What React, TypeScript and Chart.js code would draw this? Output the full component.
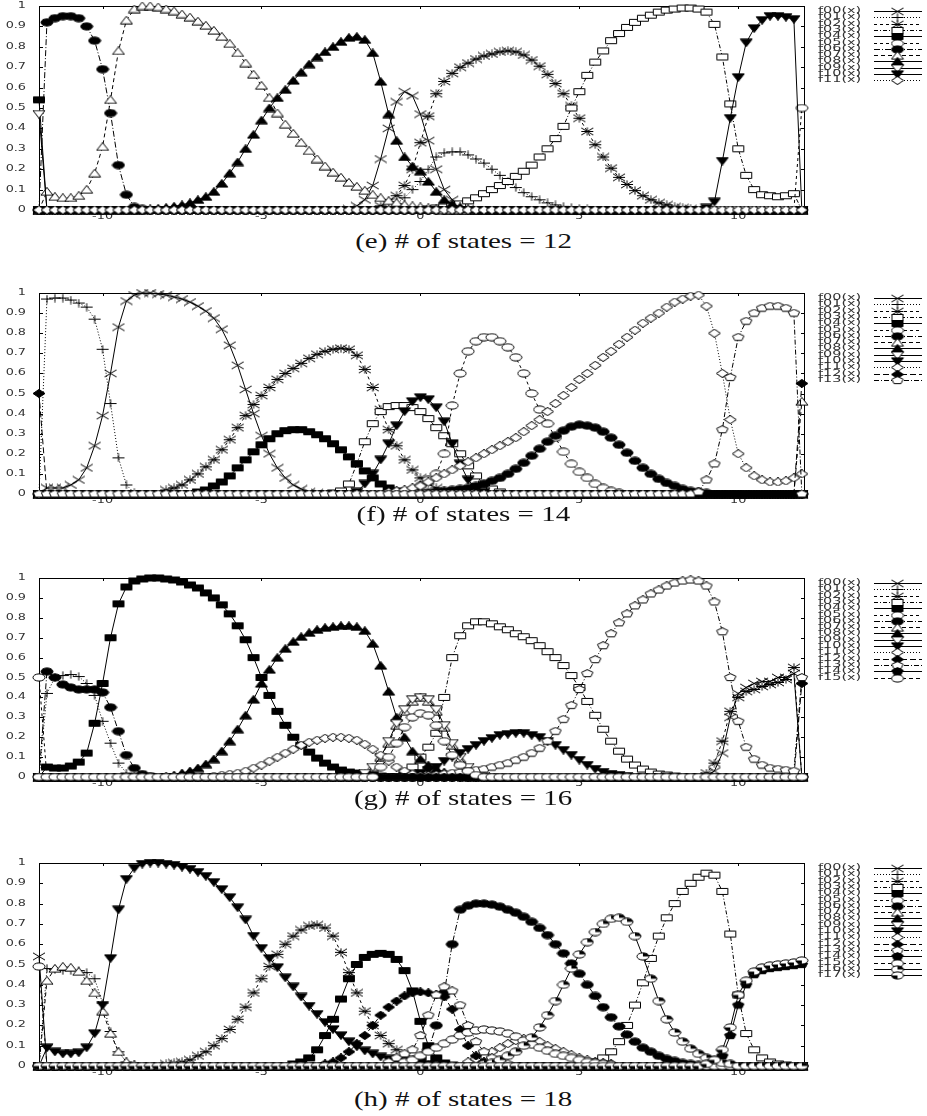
import React, { useEffect, useRef } from 'react';
import { Chart, registerables } from 'chart.js';
Chart.register(...registerables);

// ---------- shared axes ----------
const X_MIN = -12;
const X_MAX = 12.1;
const X_STEP = 0.25;
const X_GRID = Array.from({ length: 97 }, (_, i) => -12 + i * X_STEP);
const X_TICKS = [-10, -5, 0, 5, 10];
const X_TICK_LABELS = ['-10', '-5', '0', '5', '10'];
const Y_TICKS = [0, 0.1, 0.2, 0.3, 0.4, 0.5, 0.6, 0.7, 0.8, 0.9, 1];
const Y_TICK_LABELS = ['0', '0.1', '0.2', '0.3', '0.4', '0.5', '0.6', '0.7', '0.8', '0.9', '1'];
const CAPTIONS = ['(e) # of states = 12', '(f) # of states = 14', '(g) # of states = 16', '(h) # of states = 18'];

type Seg = [number, number[]]; // [first x, values at consecutive 0.25 steps]

// ---------- panel (e): 12 states ----------
const E_F00: Seg[] = [[-2.25, [0.005, 0.02, 0.05, 0.12, 0.25, 0.4, 0.53, 0.58, 0.56, 0.47, 0.34, 0.2, 0.1, 0.05, 0.02, 0.005]]];
const E_F01: Seg[] = [[-1.0, [0.01, 0.03, 0.06, 0.1, 0.14, 0.2, 0.26, 0.28, 0.285, 0.285, 0.27, 0.25, 0.23, 0.2, 0.17, 0.14, 0.11, 0.085, 0.065, 0.05, 0.035, 0.025, 0.018, 0.012, 0.008, 0.005]]];
const E_F02: Seg[] = [[-1.25, [0.02, 0.04, 0.07, 0.12, 0.2, 0.33, 0.46, 0.57, 0.63, 0.67, 0.7, 0.72, 0.74, 0.755, 0.765, 0.775, 0.78, 0.775, 0.76, 0.735, 0.705, 0.665, 0.62, 0.57, 0.51, 0.45, 0.385, 0.32, 0.26, 0.205, 0.16, 0.125, 0.095, 0.07, 0.05, 0.035, 0.025, 0.015, 0.01, 0.005]]];
const E_F03: Seg[] = [[0.25, [0.005, 0.01, 0.015, 0.02, 0.03, 0.045, 0.06, 0.08, 0.1, 0.12, 0.14, 0.165, 0.19, 0.22, 0.26, 0.3, 0.35, 0.41, 0.5, 0.58, 0.66, 0.725, 0.78, 0.83, 0.865, 0.895, 0.92, 0.94, 0.955, 0.97, 0.98, 0.985, 0.99, 0.99, 0.985, 0.97, 0.91, 0.75, 0.52, 0.3, 0.17, 0.1, 0.075, 0.07, 0.065, 0.07, 0.08]]];
const E_F04: Seg[] = [[-12, [0.54]]];
const E_F05: Seg[] = [[12, [0.5]]];
const E_F06: Seg[] = [[-11.75, [0.92, 0.94, 0.95, 0.95, 0.94, 0.9, 0.83, 0.69, 0.475, 0.22, 0.075, 0.015, 0.005]]];
const E_F07: Seg[] = [[-11.75, [0.09, 0.065, 0.06, 0.06, 0.07, 0.1, 0.18, 0.31, 0.54, 0.78, 0.93, 0.985, 1.0, 1.0, 0.995, 0.985, 0.975, 0.96, 0.945, 0.925, 0.905, 0.88, 0.85, 0.815, 0.77, 0.72, 0.665, 0.61, 0.55, 0.475, 0.42, 0.375, 0.33, 0.29, 0.25, 0.215, 0.185, 0.16, 0.135, 0.115, 0.095, 0.075, 0.06, 0.045, 0.035, 0.025, 0.02, 0.015, 0.01, 0.005]]];
const E_F08: Seg[] = [[-8.5, [0.005, 0.008, 0.012, 0.018, 0.025, 0.035, 0.05, 0.065, 0.09, 0.13, 0.18, 0.235, 0.3, 0.37, 0.44, 0.5, 0.55, 0.59, 0.635, 0.675, 0.715, 0.75, 0.775, 0.8, 0.825, 0.845, 0.85, 0.835, 0.77, 0.63, 0.47, 0.34, 0.26, 0.215, 0.19, 0.14, 0.09, 0.05, 0.03, 0.015, 0.005]]];
const E_F09: Seg[] = [[-12, [0.47]]];
const E_F10: Seg[] = [[9.0, [0.01, 0.04, 0.24, 0.45, 0.65, 0.82, 0.89, 0.93, 0.95, 0.95, 0.945, 0.935]]];
const E_F11: Seg[] = [];

// ---------- panel (f): 14 states ----------
const F_F00: Seg[] = [[-11.75, [0.03, 0.03, 0.03, 0.045, 0.07, 0.13, 0.24, 0.39, 0.6, 0.83, 0.96, 0.99, 1.0, 1.0, 0.995, 0.99, 0.98, 0.97, 0.955, 0.935, 0.91, 0.875, 0.82, 0.74, 0.64, 0.52, 0.4, 0.29, 0.2, 0.13, 0.08, 0.045, 0.025, 0.01, 0.005]]];
const F_F01: Seg[] = [[-11.75, [0.97, 0.975, 0.975, 0.965, 0.95, 0.93, 0.87, 0.72, 0.45, 0.18, 0.045, 0.005]]];
const F_F02: Seg[] = [[-8.0, [0.02, 0.03, 0.045, 0.07, 0.1, 0.135, 0.17, 0.22, 0.27, 0.33, 0.39, 0.445, 0.49, 0.53, 0.57, 0.6, 0.625, 0.65, 0.675, 0.695, 0.71, 0.72, 0.725, 0.72, 0.69, 0.62, 0.53, 0.42, 0.32, 0.24, 0.17, 0.12, 0.08, 0.05, 0.03, 0.015, 0.005]]];
const F_F03: Seg[] = [[-2.75, [0.005, 0.015, 0.05, 0.15, 0.26, 0.35, 0.41, 0.435, 0.44, 0.44, 0.43, 0.41, 0.375, 0.33, 0.29, 0.25, 0.2, 0.14, 0.09, 0.05, 0.025, 0.01]]];
const F_F04: Seg[] = [[-7.0, [0.01, 0.02, 0.04, 0.06, 0.09, 0.13, 0.17, 0.21, 0.245, 0.275, 0.3, 0.315, 0.32, 0.32, 0.31, 0.295, 0.275, 0.25, 0.22, 0.185, 0.15, 0.115, 0.08, 0.05, 0.03, 0.015, 0.005]]];
const F_F05: Seg[] = [[-0.75, [0.005, 0.01, 0.02, 0.04, 0.07, 0.1, 0.2, 0.44, 0.6, 0.71, 0.76, 0.78, 0.78, 0.76, 0.73, 0.68, 0.6, 0.5, 0.42, 0.35, 0.28, 0.21, 0.15, 0.11, 0.08, 0.05, 0.03, 0.015, 0.005]]];
const F_F06: Seg[] = [[0, [0.005, 0.007, 0.01, 0.015, 0.02, 0.025, 0.03, 0.04, 0.05, 0.065, 0.08, 0.1, 0.125, 0.155, 0.19, 0.225, 0.26, 0.29, 0.315, 0.335, 0.345, 0.34, 0.33, 0.31, 0.28, 0.245, 0.205, 0.165, 0.13, 0.1, 0.075, 0.055, 0.04, 0.025, 0.015, 0.01, 0.005]]];
const F_F07: Seg[] = [[12, [0.46]]];
const F_F08: Seg[] = [];
const F_F09: Seg[] = [];
const F_F10: Seg[] = [[-2.0, [0.01, 0.05, 0.1, 0.17, 0.25, 0.34, 0.41, 0.46, 0.48, 0.47, 0.43, 0.36, 0.25, 0.15, 0.07, 0.03, 0.01]]];
const F_F11: Seg[] = [[-1.0, [0.01, 0.015, 0.02, 0.03, 0.04, 0.06, 0.08, 0.1, 0.12, 0.14, 0.16, 0.18, 0.2, 0.22, 0.24, 0.26, 0.28, 0.31, 0.34, 0.37, 0.41, 0.45, 0.49, 0.53, 0.57, 0.6, 0.64, 0.68, 0.71, 0.745, 0.78, 0.815, 0.85, 0.875, 0.9, 0.93, 0.955, 0.97, 0.985, 0.99, 0.935, 0.8, 0.6, 0.37, 0.2, 0.13, 0.09, 0.07, 0.06, 0.06, 0.065, 0.08, 0.1]]];
const F_F12: Seg[] = [[-12, [0.5]], [12, [0.55]]];
const F_F13: Seg[] = [[8.75, [0.01, 0.07, 0.15, 0.32, 0.58, 0.78, 0.86, 0.9, 0.925, 0.935, 0.935, 0.925, 0.9]]];

// ---------- panel (g): 16 states ----------
const G_F00: Seg[] = [[9.0, [0.005, 0.03, 0.12, 0.3, 0.42, 0.45, 0.47, 0.48, 0.48, 0.5, 0.5, 0.52]]];
const G_F01: Seg[] = [[-11.75, [0.42, 0.5, 0.51, 0.515, 0.505, 0.47, 0.41, 0.28, 0.17, 0.07, 0.02, 0.005]]];
const G_F02: Seg[] = [[9.0, [0.02, 0.07, 0.18, 0.33, 0.4, 0.43, 0.44, 0.455, 0.465, 0.475, 0.49, 0.55]]];
const G_F03: Seg[] = [[-0.5, [0.02, 0.05, 0.1, 0.15, 0.22, 0.4, 0.6, 0.71, 0.76, 0.78, 0.78, 0.77, 0.755, 0.74, 0.72, 0.705, 0.685, 0.66, 0.63, 0.6, 0.56, 0.51, 0.45, 0.38, 0.31, 0.24, 0.18, 0.13, 0.09, 0.06, 0.04, 0.025, 0.015, 0.01, 0.005]]];
const G_F04: Seg[] = [[-11.75, [0.05, 0.045, 0.045, 0.055, 0.075, 0.12, 0.27, 0.47, 0.7, 0.87, 0.955, 0.985, 0.995, 1.0, 1.0, 0.995, 0.99, 0.98, 0.965, 0.95, 0.925, 0.9, 0.865, 0.82, 0.76, 0.69, 0.6, 0.5, 0.41, 0.33, 0.26, 0.2, 0.16, 0.125, 0.095, 0.07, 0.05, 0.035, 0.025, 0.02, 0.015, 0.01, 0.005]]];
const G_F05: Seg[] = [[-12, [0.5]]];
const G_F06: Seg[] = [[-11.75, [0.53, 0.5, 0.465, 0.45, 0.44, 0.44, 0.44, 0.425, 0.35, 0.23, 0.11, 0.045, 0.015, 0.005]]];
const G_F07: Seg[] = [[-1.75, [0.02, 0.05, 0.1, 0.17, 0.26, 0.33, 0.38, 0.4, 0.38, 0.33, 0.25, 0.16, 0.09, 0.045, 0.02, 0.005]]];
const G_F08: Seg[] = [[-8.0, [0.005, 0.01, 0.02, 0.03, 0.045, 0.065, 0.09, 0.13, 0.18, 0.24, 0.31, 0.39, 0.47, 0.54, 0.6, 0.645, 0.68, 0.705, 0.725, 0.74, 0.75, 0.755, 0.76, 0.76, 0.755, 0.735, 0.67, 0.56, 0.43, 0.3, 0.2, 0.13, 0.09, 0.06, 0.04, 0.025, 0.015, 0.005]]];
const G_F09: Seg[] = [[-1.75, [0.02, 0.05, 0.1, 0.18, 0.27, 0.34, 0.39, 0.4, 0.39, 0.34, 0.26, 0.17, 0.1, 0.05, 0.02, 0.005]]];
const G_F10: Seg[] = [[-0.5, [0.005, 0.01, 0.02, 0.035, 0.05, 0.08, 0.1, 0.12, 0.14, 0.16, 0.18, 0.195, 0.21, 0.215, 0.22, 0.22, 0.21, 0.2, 0.18, 0.16, 0.135, 0.11, 0.085, 0.06, 0.04, 0.025, 0.015, 0.01, 0.005]]];
const G_F11: Seg[] = [[-6.5, [0.005, 0.01, 0.015, 0.02, 0.03, 0.045, 0.06, 0.08, 0.1, 0.12, 0.14, 0.16, 0.175, 0.185, 0.195, 0.2, 0.2, 0.195, 0.185, 0.165, 0.14, 0.11, 0.08, 0.05, 0.03, 0.015, 0.005]]];
const G_F12: Seg[] = [[12, [0.47]]];
const G_F13: Seg[] = [[0, [0.005, 0.007, 0.01, 0.015, 0.02, 0.025, 0.03, 0.035, 0.04, 0.05, 0.06, 0.07, 0.085, 0.1, 0.12, 0.145, 0.18, 0.23, 0.29, 0.36, 0.44, 0.52, 0.59, 0.66, 0.72, 0.775, 0.82, 0.86, 0.89, 0.92, 0.94, 0.96, 0.975, 0.985, 0.99, 0.985, 0.96, 0.88, 0.73, 0.5, 0.28, 0.15, 0.09, 0.06, 0.045, 0.04, 0.035, 0.03, 0.5]]];
const G_F14: Seg[] = [];
const G_F15: Seg[] = [[-1.25, [0.05, 0.1, 0.17, 0.25, 0.3, 0.32, 0.31, 0.26, 0.18, 0.11, 0.06, 0.03, 0.01]]];

// ---------- panel (h): 18 states ----------
const H_F00: Seg[] = [[-12, [0.54]]];
const H_F01: Seg[] = [[-11.75, [0.48, 0.475, 0.47, 0.47, 0.47, 0.46, 0.43, 0.31, 0.17, 0.07, 0.02, 0.005]]];
const H_F02: Seg[] = [[-8.0, [0.01, 0.015, 0.02, 0.03, 0.05, 0.07, 0.1, 0.135, 0.18, 0.23, 0.29, 0.36, 0.43, 0.49, 0.55, 0.6, 0.64, 0.67, 0.69, 0.695, 0.68, 0.64, 0.56, 0.46, 0.36, 0.27, 0.2, 0.15, 0.11, 0.08, 0.05, 0.03, 0.015, 0.005]]];
const H_F03: Seg[] = [[5.0, [0.005, 0.01, 0.02, 0.04, 0.07, 0.12, 0.2, 0.3, 0.41, 0.53, 0.64, 0.73, 0.8, 0.86, 0.9, 0.93, 0.95, 0.94, 0.86, 0.65, 0.35, 0.16, 0.08, 0.04, 0.02, 0.01, 0.005]]];
const H_F04: Seg[] = [[-4.0, [0.01, 0.02, 0.04, 0.08, 0.15, 0.23, 0.33, 0.43, 0.5, 0.535, 0.55, 0.555, 0.55, 0.525, 0.47, 0.37, 0.22, 0.1, 0.04, 0.015, 0.005]]];
const H_F05: Seg[] = [[-12, [0.49]]];
const H_F06: Seg[] = [[-0.25, [0.02, 0.04, 0.08, 0.2, 0.36, 0.6, 0.77, 0.79, 0.8, 0.8, 0.795, 0.785, 0.77, 0.755, 0.735, 0.71, 0.68, 0.645, 0.6, 0.555, 0.505, 0.455, 0.4, 0.345, 0.29, 0.24, 0.195, 0.155, 0.12, 0.09, 0.07, 0.05, 0.035, 0.025, 0.015, 0.01, 0.005]]];
const H_F07: Seg[] = [[-11.75, [0.42, 0.48, 0.49, 0.485, 0.465, 0.42, 0.36, 0.27, 0.16, 0.07, 0.02, 0.005]]];
const H_F08: Seg[] = [];
const H_F09: Seg[] = [];
const H_F10: Seg[] = [[-11.75, [0.09, 0.07, 0.06, 0.06, 0.065, 0.09, 0.16, 0.3, 0.53, 0.77, 0.92, 0.975, 0.995, 1.0, 1.0, 0.995, 0.99, 0.98, 0.97, 0.955, 0.935, 0.905, 0.87, 0.83, 0.78, 0.72, 0.64, 0.58, 0.53, 0.485, 0.435, 0.39, 0.34, 0.295, 0.255, 0.215, 0.18, 0.15, 0.12, 0.095, 0.075, 0.06, 0.045, 0.035, 0.025, 0.02, 0.015, 0.01, 0.007, 0.005]]];
const H_F11: Seg[] = [[1.5, [0.02, 0.035, 0.05, 0.07, 0.09, 0.11, 0.125, 0.135, 0.13, 0.12, 0.1, 0.085, 0.07, 0.055, 0.04, 0.03, 0.02, 0.015, 0.01]]];
const H_F12: Seg[] = [[-3.0, [0.01, 0.02, 0.04, 0.07, 0.11, 0.15, 0.2, 0.25, 0.29, 0.32, 0.345, 0.36, 0.365, 0.36, 0.35, 0.34, 0.28, 0.18, 0.1, 0.05, 0.02, 0.005]]];
const H_F13: Seg[] = [[-1.0, [0.02, 0.04, 0.06, 0.08, 0.15, 0.25, 0.35, 0.39, 0.37, 0.3, 0.2, 0.12, 0.07, 0.04, 0.02, 0.01]]];
const H_F14: Seg[] = [[9.0, [0.005, 0.02, 0.05, 0.15, 0.3, 0.4, 0.45, 0.47, 0.48, 0.485, 0.49, 0.495, 0.5]]];
const H_F15: Seg[] = [[-0.5, [0.02, 0.03, 0.05, 0.07, 0.09, 0.11, 0.13, 0.15, 0.165, 0.175, 0.18, 0.175, 0.17, 0.16, 0.145, 0.125, 0.105, 0.09, 0.075, 0.06, 0.05, 0.04, 0.03, 0.02, 0.015, 0.01, 0.005]]];
const H_F16: Seg[] = [[2.0, [0.01, 0.015, 0.03, 0.05, 0.07, 0.1, 0.14, 0.19, 0.25, 0.32, 0.4, 0.48, 0.55, 0.61, 0.66, 0.7, 0.725, 0.73, 0.71, 0.64, 0.54, 0.43, 0.32, 0.23, 0.165, 0.12, 0.085, 0.06, 0.04, 0.025, 0.015, 0.01]]];
const H_F17: Seg[] = [[9.0, [0.01, 0.03, 0.08, 0.19, 0.35, 0.42, 0.465, 0.485, 0.495, 0.5, 0.505, 0.51, 0.52]]];

const PANEL_SERIES: Seg[][][] = [
  [E_F00, E_F01, E_F02, E_F03, E_F04, E_F05, E_F06, E_F07, E_F08, E_F09, E_F10, E_F11],
  [F_F00, F_F01, F_F02, F_F03, F_F04, F_F05, F_F06, F_F07, F_F08, F_F09, F_F10, F_F11, F_F12, F_F13],
  [G_F00, G_F01, G_F02, G_F03, G_F04, G_F05, G_F06, G_F07, G_F08, G_F09, G_F10, G_F11, G_F12, G_F13, G_F14, G_F15],
  [H_F00, H_F01, H_F02, H_F03, H_F04, H_F05, H_F06, H_F07, H_F08, H_F09, H_F10, H_F11, H_F12, H_F13, H_F14, H_F15, H_F16, H_F17],
];

// ---------- layout (page pixels) ----------
const PANEL_BOX = [
  { top: 6, bottom: 210, cap: 241 },
  { top: 293, bottom: 494, cap: 514 },
  { top: 578, bottom: 777, cap: 798 },
  { top: 863, bottom: 1066, cap: 1099 },
];
const PAD_TOP = 6;
const X_AXIS_H = 16;
const Y_AXIS_W = 39;
const PLOT_RIGHT = 805;
const PAGE_W = 927;

// series styles: marker kind and line dash
const STYLES: { m: string; dash: number[] }[] = [
  { m: 'x', dash: [] },
  { m: '+', dash: [1, 2] },
  { m: '*', dash: [3, 3] },
  { m: 'sq', dash: [4, 2, 1, 2] },
  { m: 'sqF', dash: [] },
  { m: 'ci', dash: [3, 3] },
  { m: 'ciF', dash: [6, 2, 1, 2] },
  { m: 'tu', dash: [4, 3] },
  { m: 'tuF', dash: [] },
  { m: 'td', dash: [] },
  { m: 'tdF', dash: [] },
  { m: 'di', dash: [1, 2] },
  { m: 'diF', dash: [6, 3] },
  { m: 'pe', dash: [5, 2, 1, 2] },
  { m: 'peF', dash: [] },
  { m: 'ci', dash: [4, 3] },
  { m: 'ciH', dash: [] },
  { m: 'ciQ', dash: [] },
];

function makeMarker(kind: string): HTMLCanvasElement {
  const W = 14, H = 9;
  const c = document.createElement('canvas');
  c.width = W;
  c.height = H;
  const g = c.getContext('2d') as CanvasRenderingContext2D;
  const cx = W / 2, cy = H / 2, rx = 6, ry = 3.6;
  g.lineWidth = 1;
  g.strokeStyle = '#000';
  const poly = (pts: number[][], fill: string) => {
    g.beginPath();
    pts.forEach(([x, y], i) => (i ? g.lineTo(x, y) : g.moveTo(x, y)));
    g.closePath();
    g.fillStyle = fill;
    g.fill();
    g.stroke();
  };
  const ell = (fill: string) => {
    g.beginPath();
    g.ellipse(cx, cy, rx, ry, 0, 0, Math.PI * 2);
    g.fillStyle = fill;
    g.fill();
    g.stroke();
  };
  const xs = () => {
    g.beginPath();
    g.moveTo(cx - rx, cy - ry); g.lineTo(cx + rx, cy + ry);
    g.moveTo(cx - rx, cy + ry); g.lineTo(cx + rx, cy - ry);
    g.stroke();
  };
  const ps = () => {
    g.beginPath();
    g.moveTo(cx - rx, cy); g.lineTo(cx + rx, cy);
    g.moveTo(cx, cy - ry - 0.5); g.lineTo(cx, cy + ry + 0.5);
    g.stroke();
  };
  const sq = [[cx - rx + 0.5, cy - 3], [cx + rx - 0.5, cy - 3], [cx + rx - 0.5, cy + 3], [cx - rx + 0.5, cy + 3]];
  const tu = [[cx, cy - ry - 0.5], [cx + rx, cy + ry], [cx - rx, cy + ry]];
  const td = [[cx - rx, cy - ry], [cx + rx, cy - ry], [cx, cy + ry + 0.5]];
  const di = [[cx, cy - ry - 0.5], [cx + rx, cy], [cx, cy + ry + 0.5], [cx - rx, cy]];
  const pe = [0, 1, 2, 3, 4].map((k) => {
    const a = -Math.PI / 2 + (k * 2 * Math.PI) / 5;
    return [cx + rx * Math.cos(a), cy + (ry + 0.3) * Math.sin(a)];
  });
  switch (kind) {
    case 'x': xs(); break;
    case '+': ps(); break;
    case '*': xs(); ps(); break;
    case 'sq': poly(sq, '#fff'); break;
    case 'sqF': poly(sq, '#000'); break;
    case 'ci': ell('#fff'); break;
    case 'ciF': ell('#000'); break;
    case 'tu': poly(tu, '#fff'); break;
    case 'tuF': poly(tu, '#000'); break;
    case 'td': poly(td, '#fff'); break;
    case 'tdF': poly(td, '#000'); break;
    case 'di': poly(di, '#fff'); break;
    case 'diF': poly(di, '#000'); break;
    case 'pe': poly(pe, '#fff'); break;
    case 'peF': poly(pe, '#000'); break;
    case 'ciH':
    case 'ciQ': {
      ell('#fff');
      g.beginPath();
      g.moveTo(cx, cy);
      if (kind === 'ciH') g.ellipse(cx, cy, rx, ry, 0, -Math.PI / 2, 0);
      else g.ellipse(cx, cy, rx, ry, 0, Math.PI / 2, Math.PI);
      g.closePath();
      g.fillStyle = '#000';
      g.fill();
      break;
    }
  }
  return c;
}

function expand(segs: Seg[]): { x: number; y: number }[] {
  const ys = X_GRID.map(() => 0);
  for (const [start, vals] of segs) {
    const i0 = Math.round((start - X_GRID[0]) / X_STEP);
    vals.forEach((v, k) => {
      if (i0 + k < ys.length) ys[i0 + k] = v;
    });
  }
  return X_GRID.map((x, i) => ({ x, y: ys[i] }));
}

function drawWide(ctx: CanvasRenderingContext2D, text: string, x: number, y: number, align: CanvasTextAlign, sx = 1.7) {
  ctx.save();
  ctx.translate(x, y);
  ctx.scale(sx, 1);
  ctx.textAlign = align;
  ctx.textBaseline = 'middle';
  ctx.fillText(text, 0, 0);
  ctx.restore();
}

function Panel({ idx }: { idx: number }) {
  const ref = useRef<HTMLCanvasElement>(null);
  const box = PANEL_BOX[idx];
  const h = PAD_TOP + (box.bottom - box.top) + X_AXIS_H;
  useEffect(() => {
    const series = PANEL_SERIES[idx];
    const markers = series.map((_, i) => makeMarker(STYLES[i].m));
    const labels = series.map((_, i) => `f${String(i).padStart(2, '0')}(x)`);
    const deco = {
      id: 'deco',
      beforeDatasetsDraw(chart: any) {
        const { ctx, chartArea: a } = chart;
        const xs = chart.scales.x, ys = chart.scales.y;
        ctx.save();
        ctx.strokeStyle = '#000';
        ctx.lineWidth = 1;
        ctx.strokeRect(a.left + 0.5, a.top + 0.5, a.right - a.left - 1, a.bottom - a.top);
        ctx.beginPath();
        Y_TICKS.forEach((v) => {
          const py = Math.round(ys.getPixelForValue(v)) + 0.5;
          ctx.moveTo(a.left, py); ctx.lineTo(a.left + 4, py);
          ctx.moveTo(a.right, py); ctx.lineTo(a.right - 4, py);
        });
        X_TICKS.forEach((v) => {
          const px = Math.round(xs.getPixelForValue(v)) + 0.5;
          ctx.moveTo(px, a.top); ctx.lineTo(px, a.top + 3);
          ctx.moveTo(px, a.bottom); ctx.lineTo(px, a.bottom - 3);
        });
        ctx.stroke();
        ctx.fillStyle = '#333';
        ctx.font = '8px "DejaVu Sans"';
        Y_TICKS.forEach((v, i) => drawWide(ctx, Y_TICK_LABELS[i], 26, ys.getPixelForValue(v), 'right', 1.6));
        X_TICKS.forEach((v, i) => drawWide(ctx, X_TICK_LABELS[i], xs.getPixelForValue(v), a.bottom + 7, 'center', 1.6));
        ctx.restore();
      },
      afterDraw(chart: any) {
        const { ctx, chartArea: a } = chart;
        ctx.save();
        ctx.font = '8px "DejaVu Sans"';
        ctx.fillStyle = '#333';
        labels.forEach((lab, i) => {
          const y = a.top + 5 + i * 6.3;
          drawWide(ctx, lab, 818, y, 'left', 1.8);
          ctx.strokeStyle = '#000';
          ctx.lineWidth = 1;
          ctx.setLineDash(STYLES[i].dash);
          ctx.beginPath();
          ctx.moveTo(874, Math.round(y) + 0.5);
          ctx.lineTo(922, Math.round(y) + 0.5);
          ctx.stroke();
          ctx.setLineDash([]);
          const m = markers[i];
          ctx.drawImage(m, 897.5 - m.width / 2, Math.round(y) + 0.5 - m.height / 2);
        });
        ctx.restore();
      },
    };
    const chart = new Chart(ref.current as HTMLCanvasElement, {
      type: 'line',
      data: {
        datasets: series.map((segs, i) => ({
          label: labels[i],
          data: expand(segs),
          borderColor: '#000',
          borderWidth: 1,
          borderDash: STYLES[i].dash,
          pointStyle: markers[i] as any,
          pointRadius: 5,
          pointHoverRadius: 5,
          tension: 0,
          fill: false,
          clip: false as any,
          order: -i,
        })),
      },
      options: {
        animation: false,
        responsive: false,
        devicePixelRatio: 1,
        events: [],
        layout: { padding: { top: PAD_TOP, right: PAGE_W - PLOT_RIGHT, left: 0, bottom: 0 } },
        plugins: { legend: { display: false }, tooltip: { enabled: false } },
        scales: {
          x: {
            type: 'linear',
            min: X_MIN,
            max: X_MAX,
            grid: { display: false, drawTicks: false },
            border: { display: false },
            ticks: { display: false },
            afterFit: (s: any) => { s.height = X_AXIS_H; },
          },
          y: {
            type: 'linear',
            min: 0,
            max: 1,
            grid: { display: false, drawTicks: false },
            border: { display: false },
            ticks: { display: false },
            afterFit: (s: any) => { s.width = Y_AXIS_W; },
          },
        },
      } as any,
      plugins: [deco],
    });
    return () => chart.destroy();
  }, [idx]);
  return (
    <canvas
      ref={ref}
      width={PAGE_W}
      height={h}
      style={{ position: 'absolute', left: 0, top: box.top - PAD_TOP, width: PAGE_W, height: h, display: 'block' }}
    />
  );
}

export default function App() {
  return (
    <div style={{ position: 'absolute', left: 0, top: 0, width: PAGE_W, height: 1116, background: '#fff', overflow: 'hidden' }}>
      {PANEL_BOX.map((b, i) => (
        <React.Fragment key={i}>
          <Panel idx={i} />
          <div
            style={{
              position: 'absolute',
              left: 0,
              top: b.cap - 14,
              width: PAGE_W,
              textAlign: 'center',
              lineHeight: '28px',
              height: 28,
            }}
          >
            <span
              style={{
                display: 'inline-block',
                fontFamily: '"Liberation Serif", "DejaVu Serif", serif',
                fontSize: 21,
                color: '#111',
                transform: 'scaleX(1.38)',
                whiteSpace: 'pre',
              }}
            >
              {CAPTIONS[i]}
            </span>
          </div>
        </React.Fragment>
      ))}
    </div>
  );
}
